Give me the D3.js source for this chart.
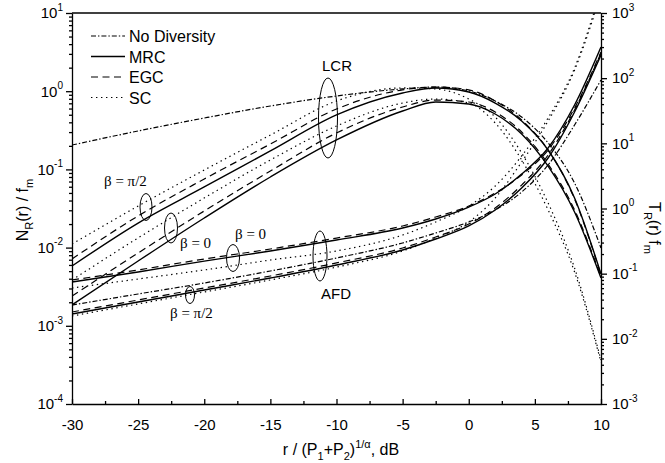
<!DOCTYPE html>
<html>
<head>
<meta charset="utf-8">
<script src="https://cdn.jsdelivr.net/npm/d3@7"></script>
<style>
  body { margin: 0; background: #fff; }
  svg { display: block; }
  .sans { font-family: "Liberation Sans", Arial, sans-serif; }
  .serif { font-family: "Liberation Serif", "Times New Roman", serif; }
</style>
</head>
<body>
<svg id="chart" width="665" height="463"></svg>
<script>
// Normalised threshold r / (P1+P2)^(1/alpha), dB
const snrDb = [-30, -25, -20, -15, -10, -5, -2.5, 0, 2, 4, 6, 8, 10];

// Level crossing rate N_R(r) / f_m  (left axis)
const lcrNoDiversity = [0.205, 0.310, 0.454, 0.647, 0.868, 1.07, 1.13, 1.01, 0.749, 0.468, 0.218, 0.0670, 0.00988];
const lcrMrcPi2 = [0.00582, 0.0206, 0.0596, 0.172, 0.497, 0.948, 1.10, 0.977, 0.706, 0.416, 0.177, 0.0431, 0.00459];
const lcrEgcPi2 = [0.00715, 0.0254, 0.0754, 0.211, 0.592, 1.04, 1.13, 1.04, 0.749, 0.428, 0.177, 0.0418, 0.00446];
const lcrScPi2  = [0.0111, 0.0340, 0.0982, 0.275, 0.749, 1.10, 1.07, 0.794, 0.468, 0.162, 0.0372, 0.00548, 0.000365];
const lcrMrc0 = [0.00185, 0.00674, 0.0239, 0.0800, 0.238, 0.558, 0.728, 0.686, 0.511, 0.284, 0.110, 0.0285, 0.00408];
const lcrEgc0 = [0.00240, 0.00853, 0.0294, 0.0953, 0.292, 0.628, 0.771, 0.728, 0.542, 0.301, 0.117, 0.0303, 0.00421];
const lcrSc0  = [0.00385, 0.0133, 0.0431, 0.132, 0.359, 0.706, 0.794, 0.706, 0.392, 0.132, 0.0303, 0.00488, 0.000344];

// Average fade duration T_R(r) f_m  (right axis)
const afdNoDiversity = [0.0330, 0.0488, 0.0719, 0.110, 0.174, 0.296, 0.421, 0.621, 0.948, 1.79, 4.66, 19.1, 93.8];
const afdMrc0 = [0.0745, 0.106, 0.156, 0.223, 0.329, 0.502, 0.690, 1.05, 1.67, 3.38, 8.48, 38.7, 301];
const afdEgc0 = [0.0800, 0.114, 0.168, 0.239, 0.352, 0.539, 0.741, 1.09, 1.73, 3.27, 7.90, 34.8, 252];
const afdSc0  = [0.0603, 0.0828, 0.114, 0.162, 0.223, 0.392, 0.621, 1.09, 2.21, 6.40, 24.5, 143, 2250];
const afdMrcPi2 = [0.0240, 0.0367, 0.0561, 0.0859, 0.136, 0.231, 0.340, 0.539, 0.948, 2.06, 5.96, 30.3, 227];
const afdEgcPi2 = [0.0258, 0.0394, 0.0603, 0.0921, 0.146, 0.248, 0.365, 0.578, 1.02, 2.29, 6.62, 32.5, 243];
const afdScPi2  = [0.0224, 0.0343, 0.0524, 0.0800, 0.126, 0.223, 0.352, 0.621, 1.45, 5.17, 22.0, 133, 1960];

// Axis ticks
const xMajorTicks = [-30, -25, -20, -15, -10, -5, 0, 5, 10];
const xMinorTicks = [-27.5, -22.5, -17.5, -12.5, -7.5, -2.5, 2.5, 7.5];
const leftDecades = [1e-4, 1e-3, 1e-2, 1e-1, 1e0, 1e1];
const rightDecades = [1e-3, 1e-2, 1e-1, 1e0, 1e1, 1e2, 1e3];
const legendLabels = ["No Diversity", "MRC", "EGC", "SC"];

const svg = d3.select("#chart");
const plot = { left: 72, right: 601, top: 13, bottom: 404 };

const x = d3.scaleLinear().domain([-30, 10]).range([plot.left, plot.right]);
const yL = d3.scaleLog().domain([1e-4, 10]).range([plot.bottom, plot.top]);
const yR = d3.scaleLog().domain([1e-3, 1e3]).range([plot.bottom, plot.top]);

const dashes = {
  solid: null,
  dash: "7,4.5",
  dot: "1.4,3.6",
  dashdot: "5,2,1.4,2"
};

function minorTicks(decades) {
  const out = [];
  for (let i = 0; i < decades.length - 1; i++)
    for (let k = 2; k <= 9; k++) out.push(decades[i] * k);
  return out;
}

svg.append("defs").append("clipPath").attr("id", "plotClip")
  .append("rect")
  .attr("x", plot.left).attr("y", plot.top)
  .attr("width", plot.right - plot.left).attr("height", plot.bottom - plot.top);

// Curves
const series = [
  { v: lcrNoDiversity, s: yL, style: "dashdot" },
  { v: lcrMrcPi2, s: yL, style: "solid" },
  { v: lcrEgcPi2, s: yL, style: "dash" },
  { v: lcrScPi2, s: yL, style: "dot" },
  { v: lcrMrc0, s: yL, style: "solid" },
  { v: lcrEgc0, s: yL, style: "dash" },
  { v: lcrSc0, s: yL, style: "dot" },
  { v: afdNoDiversity, s: yR, style: "dashdot" },
  { v: afdMrc0, s: yR, style: "solid" },
  { v: afdEgc0, s: yR, style: "dash" },
  { v: afdSc0, s: yR, style: "dot" },
  { v: afdMrcPi2, s: yR, style: "solid" },
  { v: afdEgcPi2, s: yR, style: "dash" },
  { v: afdScPi2, s: yR, style: "dot" }
];

const curves = svg.append("g").attr("clip-path", "url(#plotClip)");
series.forEach(sr => {
  const line = d3.line()
    .x(d => x(d[0]))
    .y(d => sr.s(d[1]))
    .curve(d3.curveMonotoneX);
  curves.append("path")
    .datum(snrDb.map((xv, i) => [xv, sr.v[i]]))
    .attr("d", line)
    .attr("fill", "none")
    .attr("stroke", "#000")
    .attr("stroke-width", sr.style === "solid" ? 1.4 : 1.2)
    .attr("stroke-dasharray", dashes[sr.style]);
});

// Axes
function styleAxis(g) {
  g.selectAll("path, line").attr("stroke", "#000").attr("stroke-width", 1.3);
  g.selectAll("text").attr("fill", "#000").attr("class", "sans").attr("font-size", 15);
}

svg.append("g").attr("transform", `translate(0,${plot.bottom})`)
  .call(d3.axisBottom(x).tickValues(xMajorTicks).tickSizeInner(-5).tickSizeOuter(0).tickPadding(15)
    .tickFormat(d => String(d)))
  .call(g => g.attr("font-family", null).attr("font-size", null))
  .call(styleAxis);
svg.append("g").attr("transform", `translate(0,${plot.bottom})`)
  .call(d3.axisBottom(x).tickValues(xMinorTicks).tickSizeInner(-3).tickSizeOuter(0).tickFormat(""))
  .call(g => g.select(".domain").remove())
  .call(styleAxis);

// Decade labels written as 10 with a raised exponent
function powerLabels(g) {
  g.selectAll(".tick text").each(function (d) {
    const t = d3.select(this);
    const e = Math.round(Math.log10(d));
    t.text(null);
    t.append("tspan").text("10");
    t.append("tspan").attr("font-size", 10).attr("dy", "-0.75em").text(String(e));
  });
}

svg.append("g").attr("transform", `translate(${plot.left},0)`)
  .call(d3.axisLeft(yL).tickValues(leftDecades).tickSizeInner(6).tickSizeOuter(0).tickPadding(3))
  .call(g => g.attr("font-family", null).attr("font-size", null))
  .call(styleAxis)
  .call(powerLabels);
svg.append("g").attr("transform", `translate(${plot.left},0)`)
  .call(d3.axisLeft(yL).tickValues(minorTicks(leftDecades)).tickSizeInner(3).tickSizeOuter(0).tickFormat(""))
  .call(g => g.select(".domain").remove())
  .call(styleAxis);

svg.append("g").attr("transform", `translate(${plot.right},0)`)
  .call(d3.axisRight(yR).tickValues(rightDecades).tickSizeInner(6).tickSizeOuter(0).tickPadding(5))
  .call(g => g.attr("font-family", null).attr("font-size", null))
  .call(styleAxis)
  .call(powerLabels);
svg.append("g").attr("transform", `translate(${plot.right},0)`)
  .call(d3.axisRight(yR).tickValues(minorTicks(rightDecades)).tickSizeInner(3).tickSizeOuter(0).tickFormat(""))
  .call(g => g.select(".domain").remove())
  .call(styleAxis);

// Top frame
svg.append("line")
  .attr("x1", plot.left).attr("x2", plot.right)
  .attr("y1", plot.top).attr("y2", plot.top)
  .attr("stroke", "#000").attr("stroke-width", 1.3);

// Axis titles
const xt = svg.append("text").attr("class", "sans").attr("font-size", 16)
  .attr("x", 341).attr("y", 455).attr("text-anchor", "middle");
xt.append("tspan").text("r / (P");
xt.append("tspan").attr("font-size", 11).attr("dy", 5).text("1");
xt.append("tspan").attr("dy", -5).text("+P");
xt.append("tspan").attr("font-size", 11).attr("dy", 5).text("2");
xt.append("tspan").attr("dy", -5).text(")");
xt.append("tspan").attr("font-size", 11).attr("dy", -7).text("1/α");
xt.append("tspan").attr("dy", 7).text(", dB");

const yt = svg.append("text").attr("class", "sans").attr("font-size", 16)
  .attr("transform", "translate(28,210) rotate(-90)").attr("text-anchor", "middle");
yt.append("tspan").text("N");
yt.append("tspan").attr("font-size", 11).attr("dy", 5).text("R");
yt.append("tspan").attr("dy", -5).text("(r) / f");
yt.append("tspan").attr("font-size", 11).attr("dy", 5).text("m");

const rt = svg.append("text").attr("class", "sans").attr("font-size", 16)
  .attr("transform", "translate(649,228) rotate(90)").attr("text-anchor", "middle");
rt.append("tspan").text("T");
rt.append("tspan").attr("font-size", 11).attr("dy", 5).text("R");
rt.append("tspan").attr("dy", -5).text("(r) f");
rt.append("tspan").attr("font-size", 11).attr("dy", 5).text("m");

// Legend
const legendStyles = ["dashdot", "solid", "dash", "dot"];
const legend = svg.append("g");
legendLabels.forEach((lab, i) => {
  const ly = 36 + i * 20.5;
  legend.append("line")
    .attr("x1", 91).attr("x2", 125).attr("y1", ly).attr("y2", ly)
    .attr("stroke", "#000")
    .attr("stroke-width", legendStyles[i] === "solid" ? 1.4 : 1.2)
    .attr("stroke-dasharray", dashes[legendStyles[i]]);
  legend.append("text").attr("class", "sans").attr("font-size", 16)
    .attr("x", 129).attr("y", ly + 6).text(lab);
});

// Group annotations
const ann = svg.append("g").attr("fill", "none").attr("stroke", "#000").attr("stroke-width", 1);
[
  [328, 118, 9.5, 40],   // LCR bundle
  [320, 256, 7, 25],     // AFD bundle
  [146, 207, 6, 13.5],   // LCR, beta = pi/2
  [171, 228, 6.5, 15],   // LCR, beta = 0
  [233, 258, 6.5, 13.5], // AFD, beta = 0
  [190, 295, 4.5, 8.5]   // AFD, beta = pi/2
].forEach(([cx, cy, rx, ry]) => {
  ann.append("ellipse").attr("cx", cx).attr("cy", cy).attr("rx", rx).attr("ry", ry);
});

svg.append("text").attr("class", "sans").attr("font-size", 15).attr("x", 322).attr("y", 71).text("LCR");
svg.append("text").attr("class", "sans").attr("font-size", 15).attr("x", 321).attr("y", 299).text("AFD");

const betaLabels = [
  [104, 186, "β = π/2"],
  [180, 248, "β = 0"],
  [235, 239, "β = 0"],
  [170, 318, "β = π/2"]
];
betaLabels.forEach(([bx, by, t]) => {
  svg.append("text").attr("class", "serif").attr("font-size", 15)
    .attr("x", bx).attr("y", by).text(t);
});
</script>
</body>
</html>
